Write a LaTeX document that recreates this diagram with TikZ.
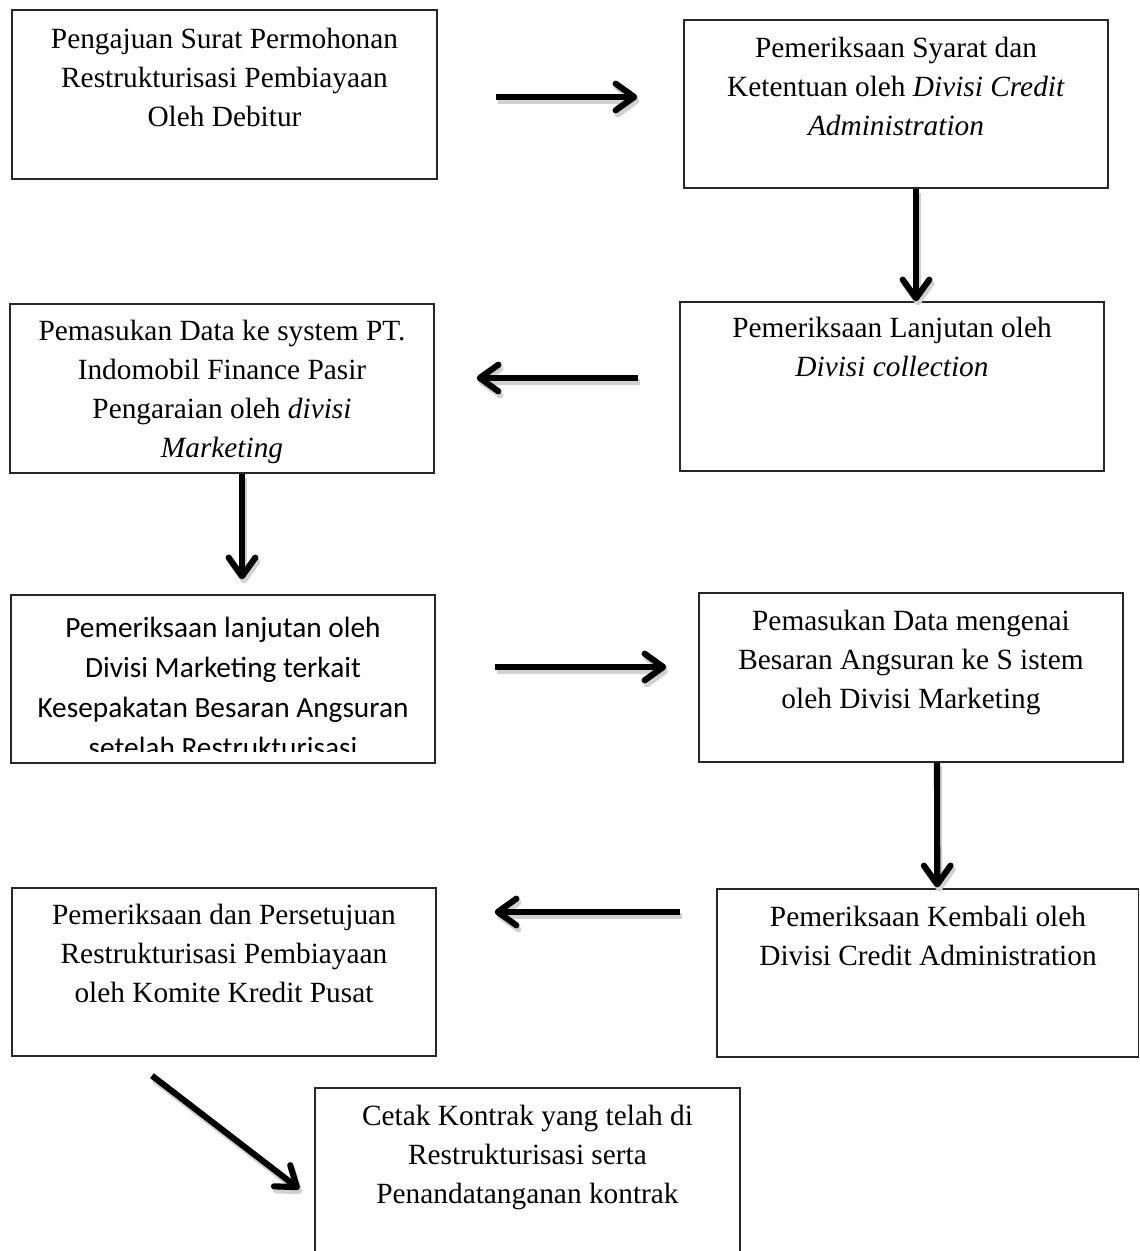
\documentclass[tikz,border=0pt]{standalone}
\usepackage{fontspec}
\setmainfont{Liberation Serif}
\newfontfamily\calib{Carlito}
\usetikzlibrary{arrows.meta,fit}
\newcommand\fl{\rule{0pt}{17.6pt}}
\begin{document}
\begin{tikzpicture}[x=0.75pt,y=-0.75pt,
  box/.style={draw=black!85, line width=1pt, inner sep=0pt},
  txt/.style={align=center, inner sep=0pt, anchor=north, font=\fontsize{22}{29.25}\selectfont},
  ctxt/.style={align=center, inner sep=0pt, anchor=north, font=\calib\fontsize{22}{30}\selectfont},
  arr/.style={line width=4.6pt, -{Straight Barb[length=14pt,width=20pt,round]}},
  arrsh/.style={arr, draw=black!18, transform canvas={shift={(1.5pt,-3pt)}}},
]
\useasboundingbox (0,0) rectangle (1139,1251);
\newcommand\conn[2]{\draw[arrsh] #1 -- #2; \draw[arr] #1 -- #2;}

% boxes
\node[box, fit={(12,10) (437,179)}] (A) {};
\node[box, fit={(684,20) (1108,188)}] (B) {};
\node[box, fit={(680,302) (1104,471)}] (C) {};
\node[box, fit={(10,304) (434,473)}] (D) {};
\node[box, fit={(11,595) (435,763)}] (E) {};
\node[box, fit={(699,593) (1123,762)}] (F) {};
\node[box, fit={(12,888) (436,1056)}] (G) {};
\node[box, fit={(717,889) (1138.5,1057)}] (H) {};
\node[box, fit={(315,1088) (740,1262)}] (I) {};

% texts
\node[txt] (At) at (224.5,24.5) {\fl Pengajuan Surat Permohonan\\Restrukturisasi Pembiayaan\\Oleh Debitur};
\node[txt] (Bt) at (896,33.5) {\fl Pemeriksaan Syarat dan\\Ketentuan oleh \textit{Divisi Credit}\\\textit{Administration}};
\node[txt] (Ct) at (892,313.5) {\fl Pemeriksaan Lanjutan oleh\\\textit{Divisi collection}};
\node[txt] (Dt) at (222,316.5) {\fl Pemasukan Data ke system PT.\\Indomobil Finance Pasir\\Pengaraian oleh \textit{divisi}\\\textit{Marketing}};
\begin{scope}
\clip (11,595) rectangle (435,751);
\node[ctxt] (Et) at (223,613.5) {\fl Pemeriksaan lanjutan oleh\\Divisi Marketing terkait\\Kesepakatan Besaran Angsuran\\setelah Restrukturisasi};
\end{scope}
\node[txt] (Ft) at (911,606.5) {\fl Pemasukan Data mengenai\\Besaran Angsuran ke S istem\\oleh Divisi Marketing};
\node[txt] (Gt) at (224,900.5) {\fl Pemeriksaan dan Persetujuan\\Restrukturisasi Pembiayaan\\oleh Komite Kredit Pusat};
\node[txt] (Ht) at (928,902.5) {\fl Pemeriksaan Kembali oleh\\Divisi Credit Administration};
\node[txt] (It) at (527.5,1101.5) {\fl Cetak Kontrak yang telah di\\Restrukturisasi serta\\Penandatanganan kontrak};

% connectors
\conn{([shift={(58,2.5)}]A.east)}{([shift={(-46,-7)}]B.west)}
\conn{([shift={(20,0)}]B.south)}{([shift={(24,0)}]C.north)}
\conn{([shift={(-41,-8.5)}]C.west)}{([shift={(42,-10.5)}]D.east)}
\conn{([shift={(20,0)}]D.south)}{([shift={(19,-15)}]E.north)}
\conn{([shift={(59,-12)}]E.east)}{([shift={(-32,-10.5)}]F.west)}
\conn{([shift={(26,0)}]F.south)}{([shift={(9.5,-1)}]H.north)}
\conn{([shift={(-36,-61)}]H.west)}{([shift={(58,-60)}]G.east)}
\conn{([shift={(-72,19)}]G.south)}{([shift={(-15,14)}]I.west)}
\end{tikzpicture}
\end{document}
